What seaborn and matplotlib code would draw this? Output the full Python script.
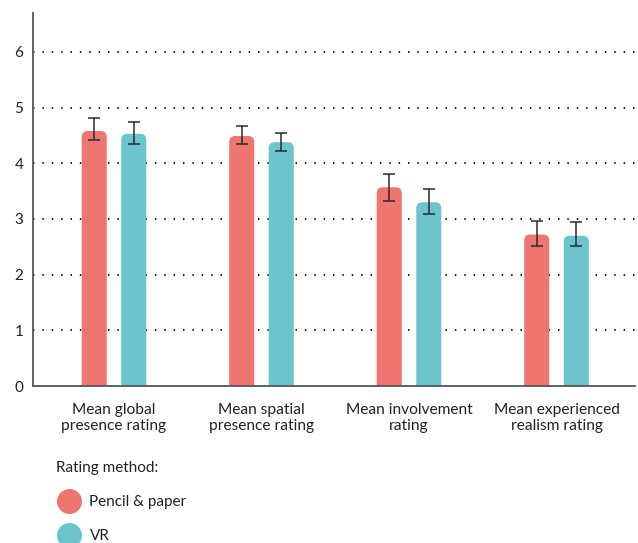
import numpy as np
import pandas as pd
import matplotlib
matplotlib.use("Agg")
import matplotlib.pyplot as plt
import seaborn as sns
from matplotlib.patches import FancyBboxPatch
from matplotlib.lines import Line2D

categories = ["Mean global\npresence rating", "Mean spatial\npresence rating",
              "Mean involvement\nrating", "Mean experienced\nrealism rating"]
methods = ["Pencil & paper", "VR"]
pencil_mean = [4.58, 4.49, 3.57, 2.72]
vr_mean = [4.53, 4.38, 3.30, 2.70]
pencil_low = [4.42, 4.34, 3.33, 2.52]
pencil_high = [4.82, 4.67, 3.80, 2.97]
vr_low = [4.34, 4.22, 3.09, 2.51]
vr_high = [4.74, 4.54, 3.54, 2.94]
y_ticks = [0, 1, 2, 3, 4, 5, 6]
colors = ["#EF7571", "#6CC4CC"]

df = pd.DataFrame({
    "category": categories * 2,
    "method": [methods[0]] * len(categories) + [methods[1]] * len(categories),
    "rating": pencil_mean + vr_mean,
})

sns.set_theme(style="white")
plt.rcParams["font.family"] = ["Lato", "DejaVu Sans"]

fig = plt.figure(figsize=(6.38, 5.43), dpi=100)
ax = fig.add_axes([33 / 638, 1 - 386 / 543, (635 - 33) / 638, (386 - 13) / 543])

sns.barplot(data=df, x="category", y="rating", hue="method", order=categories,
            hue_order=methods, palette=colors, width=0.536, gap=0.366,
            errorbar=None, legend=False, ax=ax, saturation=1)

ax.set_xlim(-0.549, 3.532)
ax.set_ylim(0, 6.7)

# rounded tops
t = ax.transData
px_x = t.transform((1, 0))[0] - t.transform((0, 0))[0]
px_y = t.transform((0, 1))[1] - t.transform((0, 0))[1]
aspect = px_x / px_y
r = 6 / px_x
bars = list(ax.patches)
centers = []
for p in bars:
    x, w, h = p.get_x(), p.get_width(), p.get_height()
    centers.append(x + w / 2)
    fb = FancyBboxPatch((x, -0.5), w, h + 0.5,
                        boxstyle=f"round,pad=0,rounding_size={r}",
                        mutation_aspect=aspect, fc=p.get_facecolor(),
                        ec="none", zorder=2)
    ax.add_patch(fb)
    p.remove()

n = len(categories)
pc = centers[:n]
vc = centers[n:]
for xs, m, lo, hi in [(pc, pencil_mean, pencil_low, pencil_high),
                      (vc, vr_mean, vr_low, vr_high)]:
    m = np.array(m); lo = np.array(lo); hi = np.array(hi)
    ax.errorbar(xs, m, yerr=[m - lo, hi - m], fmt="none", ecolor="#2a2a2a",
                elinewidth=1.1, capsize=4, capthick=1.1, zorder=3)

ax.set_yticks(y_ticks)
ax.set_axisbelow(True)
ax.yaxis.grid(True, linestyle=(0, (0.7, 3.8)), color="#222222", linewidth=1.5)
ax.get_ygridlines()[0].set_visible(False)
ax.xaxis.grid(False)

for s in ["top", "right"]:
    ax.spines[s].set_visible(False)
for s in ["left", "bottom"]:
    ax.spines[s].set_color("#555555")
    ax.spines[s].set_linewidth(1.3)

ax.tick_params(axis="y", length=0, pad=7, labelsize=11, labelcolor="#222222")
ax.tick_params(axis="x", length=0, pad=12.5, labelsize=11.2, labelcolor="#222222")
for lab in ax.get_xticklabels():
    lab.set_linespacing(1.12)
ax.set_xlabel("")
ax.set_ylabel("")

handles = [Line2D([], [], marker="o", ls="none", markersize=18,
                  markerfacecolor=c, markeredgecolor="none") for c in colors]
leg = fig.legend(handles, methods, title="Rating method:", loc="upper left",
                 bbox_to_anchor=(56 / 638, 1 - 461 / 543), frameon=False,
                 alignment="left", borderpad=0, borderaxespad=0,
                 handlelength=1.64, handletextpad=0.55, labelspacing=1.32,
                 fontsize=11, title_fontsize=11)
for txt in leg.get_texts():
    txt.set_color("#222222")
leg.get_title().set_color("#222222")

fig.savefig("out.png", dpi=100)
